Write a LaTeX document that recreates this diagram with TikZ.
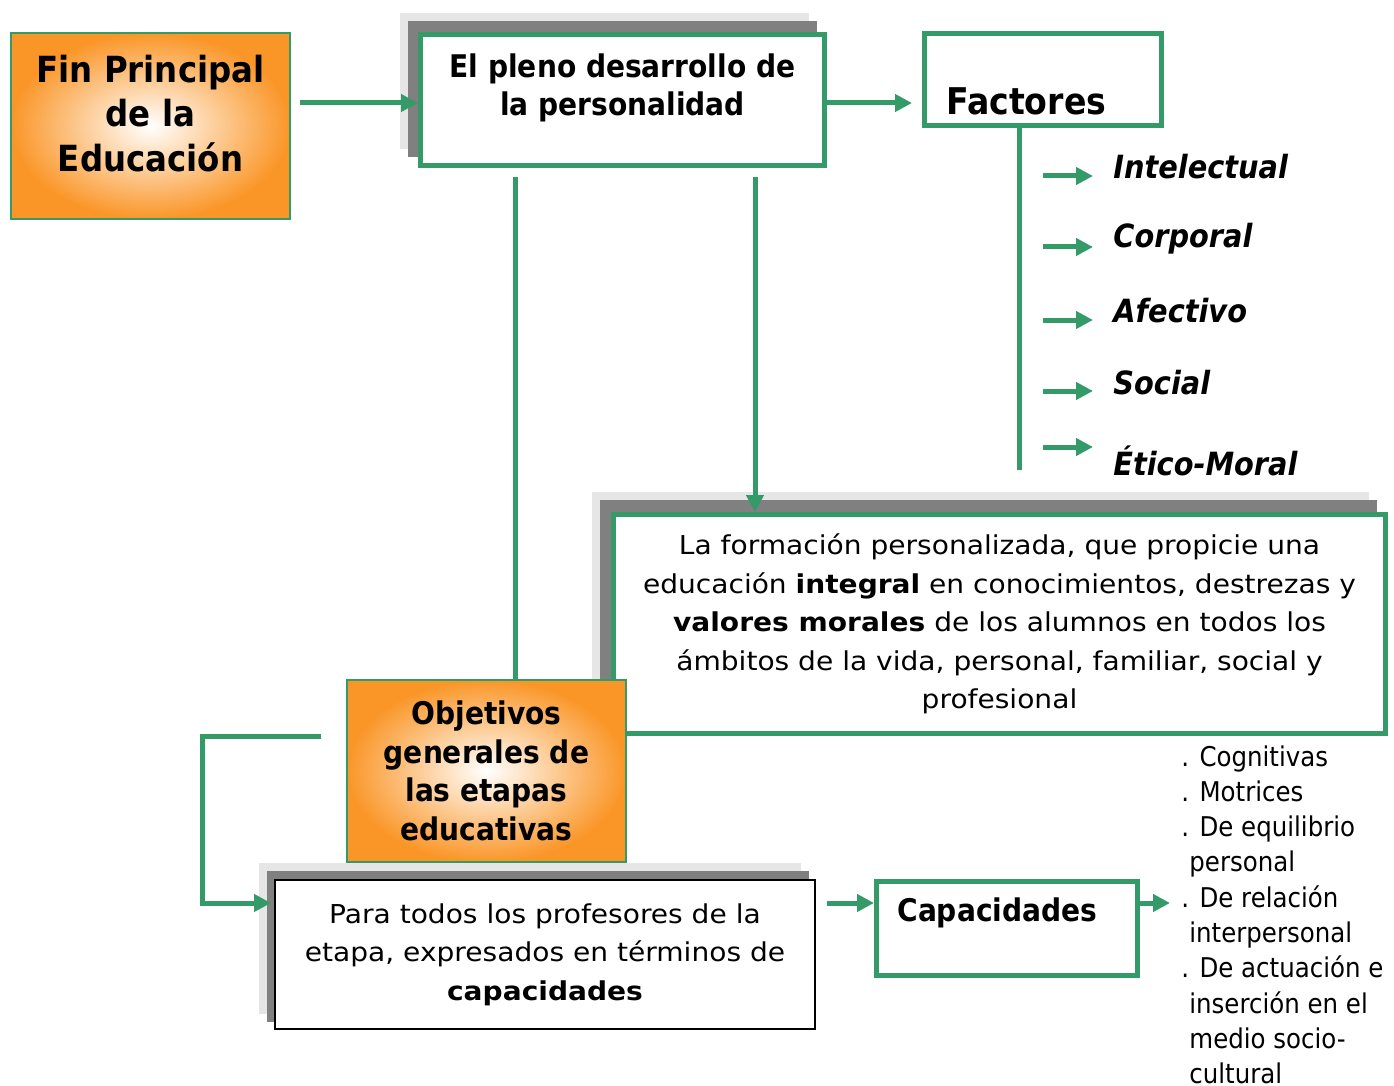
\documentclass[tikz,border=0pt]{standalone}
\usepackage{fontspec}
\setmainfont{DejaVu Sans}[FakeStretch=0.9]
\newfontfamily\bodyfam{DejaVu Sans}[FakeStretch=1.08]
\usetikzlibrary{arrows.meta,calc}
\definecolor{boxgreen}{RGB}{52,155,104}
\definecolor{boxorange}{RGB}{250,150,40}
\definecolor{shadelight}{RGB}{230,230,230}
\definecolor{shadedark}{RGB}{128,128,128}
\tikzset{
  greenbox/.style={draw=boxgreen, line width=2.5pt, fill=white, inner sep=0pt},
  orangebox/.style={draw=boxgreen, line width=0.6pt, inner color=white, outer color=boxorange, inner sep=0pt},
  greenline/.style={draw=boxgreen, line width=2.5pt},
  greenarrow/.style={greenline, -{Triangle[length=8.5pt,width=8.5pt]}},
  titlefont/.style={font={\bfseries\fontsize{18}{22.25}\selectfont}},
  headfont/.style={font={\bfseries\fontsize{15.6}{19.25}\selectfont}},
  factorfont/.style={font={\bfseries\itshape\fontsize{16}{19}\selectfont}, inner sep=0pt},
  bodyfont/.style={font={\bodyfam\fontsize{13}{19.25}\selectfont}},
  listfont/.style={font={\fontsize{13.6}{17.65}\selectfont}, inner sep=0pt},
}
\begin{document}
\begin{tikzpicture}[x=0.5pt,y=-0.5pt]
\useasboundingbox (0,0) rectangle (1394,1086);
\clip (0,0) rectangle (1394,1086);

%draw the shadows of the upper boxes
\fill[shadelight] (400,13) rectangle (809,149);
\fill[shadedark] (408,21) rectangle (817,157);
\fill[shadelight] (592,492) rectangle (1369,716);
\fill[shadedark] (600,500) rectangle (1377,724);

%draw the upper boxes
\node[orangebox, minimum width=139.5pt, minimum height=93pt] (fin) at (150.5,126) {};
\node[titlefont, align=center] (finlabel) at (150.5,113.5) {Fin Principal\\de la\\Educación};

\node[greenbox, minimum width=202pt, minimum height=65.5pt] (pleno) at (622.5,100) {};
\node[headfont, align=center] (plenolabel) at (622.5,88) {El pleno desarrollo de\\la personalidad};

\node[greenbox, minimum width=118.5pt, minimum height=46pt] (factores) at (1043,79.5) {};
\node[font={\bfseries\fontsize{18.4}{21}\selectfont}, inner sep=0pt, anchor=west] (factoreslabel) at (946,101) {Factores};

\node[greenbox, minimum width=386pt, minimum height=109.5pt, bodyfont, align=center] (formacion) at (999.5,624)
  {La formación personalizada, que propicie una\\
   educación \textbf{integral} en conocimientos, destrezas y\\
   \textbf{valores morales} de los alumnos en todos los\\
   ámbitos de la vida, personal, familiar, social y\\
   profesional};

\node[orangebox, minimum width=139.5pt, minimum height=91pt, headfont, align=center] (objetivos) at (486.5,771)
  {Objetivos\\generales de\\las etapas\\educativas};

%draw the factors
\draw[greenline] (factores.south -| 1019,0) -- (1019,470) coordinate (fbottom);

\coordinate (ia) at (1043,176);
\coordinate (ca) at (1043,247);
\coordinate (aa) at (1043,320);
\coordinate (sa) at (1043,391);
\coordinate (ea) at (1043,447);
\node[factorfont, anchor=west] (intelectual) at (1113,167) {Intelectual};
\node[factorfont, anchor=west] (corporal) at (1113,239) {Corporal};
\node[factorfont, anchor=west] (afectivo) at (1113,311) {Afectivo};
\node[factorfont, anchor=west] (social) at (1113,383) {Social};
\node[factorfont, anchor=west] (etico) at (1113,461) {Ético-Moral};
\draw[greenarrow, shorten >=10pt] (ia) -- (ia -| intelectual.west);
\draw[greenarrow, shorten >=10pt] (ca) -- (ca -| corporal.west);
\draw[greenarrow, shorten >=10pt] (aa) -- (aa -| afectivo.west);
\draw[greenarrow, shorten >=10pt] (sa) -- (sa -| social.west);
\draw[greenarrow, shorten >=10pt] (ea) -- (ea -| etico.west);

%draw the connectors of the upper part
\coordinate (plenorow) at ($(pleno.west)+(0,3)$);
\draw[greenarrow, shorten <=4.5pt] (plenorow -| fin.east) -- (plenorow);
\draw[greenarrow, shorten >=5pt] (plenorow -| pleno.east) -- (plenorow -| factores.west);
\draw[greenline] ($(pleno.south)+(-107.5,9)$) coordinate (pl) -- (pl |- objetivos.north);
\draw[greenarrow] ($(pleno.south)+(132.5,9)$) coordinate (pr) -- (pr |- formacion.north);

%draw the lower boxes
\fill[shadelight] (259,863) rectangle (801,1014);
\fill[shadedark] (267,871) rectangle (809,1022);
\node[draw=black, line width=1pt, fill=white, minimum width=270pt, minimum height=74.5pt, bodyfont, align=center] (para) at (545,954.5)
  {Para todos los profesores de la\\
   etapa, expresados en términos de\\
   \textbf{capacidades}};

\node[greenbox, minimum width=130.5pt, minimum height=47pt] (capac) at (1007,928.5) {};
\node[headfont, inner sep=0pt, anchor=west] (capaclabel) at (897,913) {Capacidades};

\node[listfont, align=left, anchor=north west] (lista) at (1181,745)
  {. Cognitivas\\
   . Motrices\\
   . De equilibrio\\
   \hspace{4pt}personal\\
   . De relación\\
   \hspace{4pt}interpersonal\\
   . De actuación e\\
   \hspace{4pt}inserción en el\\
   \hspace{4pt}medio socio-\\
   \hspace{4pt}cultural};

%draw the connectors of the lower part
\coordinate (caprow) at (0,903);
\draw[greenarrow] ($(objetivos.west |- formacion.south)+(-25,0)$) -- ++(-119,0) |- ($(para.west)+(-3,-51.5)$);
\draw[greenarrow, shorten <=5.5pt] (para.east |- caprow) -- (capac.west |- caprow);
\draw[greenarrow, shorten >=5.5pt] (capac.east |- caprow) -- (lista.west |- caprow);

\end{tikzpicture}
\end{document}
